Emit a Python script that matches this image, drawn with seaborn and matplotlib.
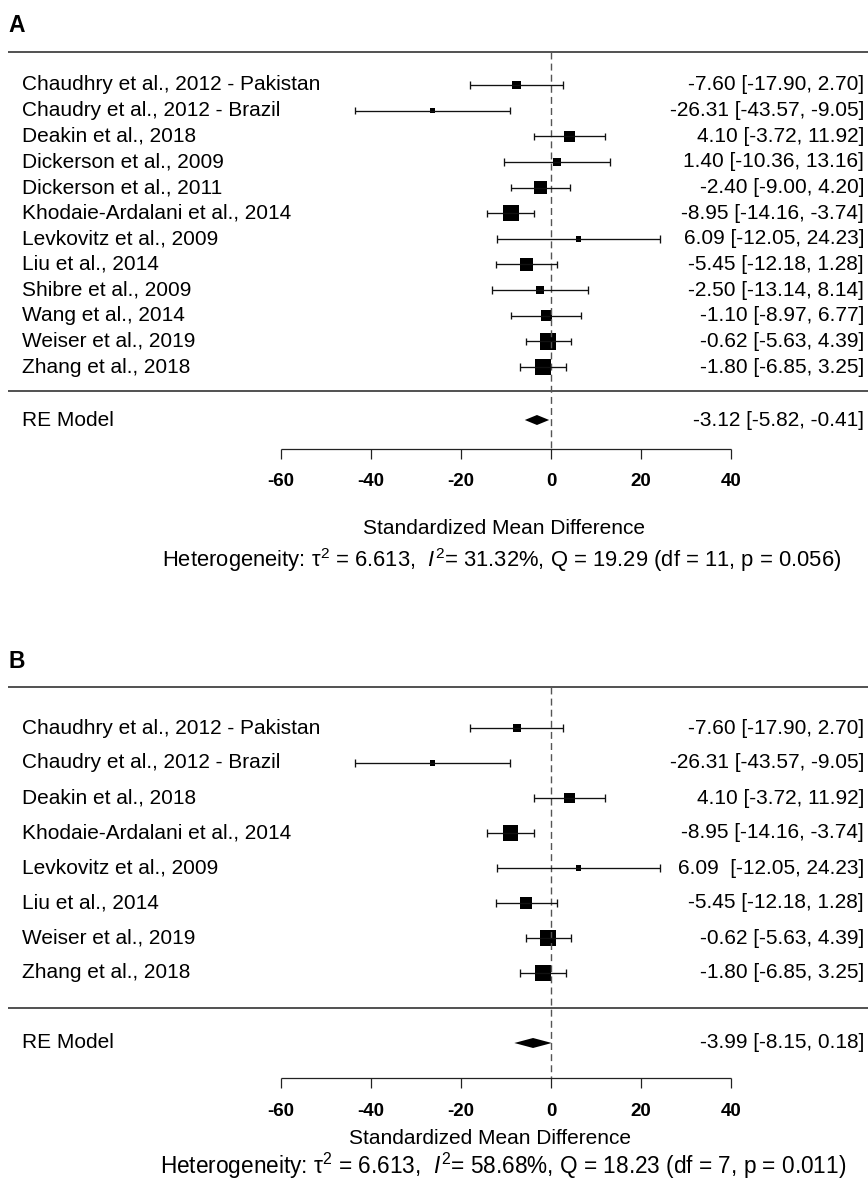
import numpy as np
import pandas as pd
import matplotlib
matplotlib.use("Agg")
import matplotlib.pyplot as plt
import seaborn as sns

# ---- data: panel A (all studies) ----
studies_a = [
    "Chaudhry et al., 2012 - Pakistan",
    "Chaudry et al., 2012 - Brazil",
    "Deakin et al., 2018",
    "Dickerson et al., 2009",
    "Dickerson et al., 2011",
    "Khodaie-Ardalani et al., 2014",
    "Levkovitz et al., 2009",
    "Liu et al., 2014",
    "Shibre et al., 2009",
    "Wang et al., 2014",
    "Weiser et al., 2019",
    "Zhang et al., 2018",
]
est_a = [-7.60, -26.31, 4.10, 1.40, -2.40, -8.95, 6.09, -5.45, -2.50, -1.10, -0.62, -1.80]
lb_a = [-17.90, -43.57, -3.72, -10.36, -9.00, -14.16, -12.05, -12.18, -13.14, -8.97, -5.63, -6.85]
ub_a = [2.70, -9.05, 11.92, 13.16, 4.20, -3.74, 24.23, 1.28, 8.14, 6.77, 4.39, 3.25]
re_a = (-3.12, -5.82, -0.41)
het_a = r"Heterogeneity: τ$^2$ = 6.613,  $I^2$= 31.32%, Q = 19.29 (df = 11, p = 0.056)"

# ---- data: panel B (subset) ----
studies_b = [
    "Chaudhry et al., 2012 - Pakistan",
    "Chaudry et al., 2012 - Brazil",
    "Deakin et al., 2018",
    "Khodaie-Ardalani et al., 2014",
    "Levkovitz et al., 2009",
    "Liu et al., 2014",
    "Weiser et al., 2019",
    "Zhang et al., 2018",
]
est_b = [-7.60, -26.31, 4.10, -8.95, 6.09, -5.45, -0.62, -1.80]
lb_b = [-17.90, -43.57, -3.72, -14.16, -12.05, -12.18, -5.63, -6.85]
ub_b = [2.70, -9.05, 11.92, -3.74, 24.23, 1.28, 4.39, 3.25]
re_b = (-3.99, -8.15, 0.18)
het_b = r"Heterogeneity: τ$^2$ = 6.613,  $I^2$= 58.68%, Q = 18.23 (df = 7, p = 0.011)"

xticks = [-60, -40, -20, 0, 20, 40]
xlab = "Standardized Mean Difference"

sns.set_theme(style="white")
plt.rcParams["font.family"] = ["Liberation Sans", "DejaVu Sans"]
plt.rcParams["text.color"] = "black"
plt.rcParams["mathtext.fontset"] = "custom"
plt.rcParams["mathtext.rm"] = "Liberation Sans"
plt.rcParams["mathtext.it"] = "Liberation Sans:italic"
plt.rcParams["mathtext.bf"] = "Liberation Sans:bold"

W, H, DPI = 868, 1181, 100
PX = 4.5          # pixels per SMD unit
X0 = 551          # pixel column of zero
FS = 15


def px2x(p):
    return (p - X0) / PX


fig = plt.figure(figsize=(W / DPI, H / DPI), dpi=DPI)
ax = fig.add_axes([0, 0, 1, 1])
ax.set_xlim(px2x(0), px2x(W))
ax.set_ylim(H, 0)
ax.axis("off")


def panel(letter, studies, est, lb, ub, re, het, lay, pad_rows=()):
    est = np.array(est)
    lb = np.array(lb)
    ub = np.array(ub)
    k = len(studies)
    ys = lay["row0"] + np.arange(k) * lay["step"]

    # box sizes from inverse standard errors (metafor style, 0.5..1.5)
    se = (ub - lb) / (2 * 1.96)
    wi = 1 / se
    ps = (wi - wi.min()) / (wi.max() - wi.min()) + 0.5
    side_pt = ps * lay["box"] * 72 / DPI
    df = pd.DataFrame({"est": est, "y": ys, "area": side_pt ** 2})

    ax.text(px2x(8), lay["title"], letter, fontsize=16.5, fontweight="bold",
            ha="left", va="center")
    ax.hlines([lay["top"], lay["bot"]], px2x(8), px2x(W), color="#222", lw=1.1)
    ax.vlines(0, lay["top"], lay["axis"], color="#555", lw=1.0,
              linestyles=(0, (5, 3)))

    ax.hlines(ys, lb, ub, color="#111", lw=0.95)
    ax.vlines(np.r_[lb, ub], np.r_[ys, ys] - 3.7, np.r_[ys, ys] + 3.7,
              color="#111", lw=0.95)
    sns.scatterplot(data=df, x="est", y="y", size="area",
                    sizes=(df["area"].min(), df["area"].max()),
                    marker="s", color="black", linewidth=0, legend=False, ax=ax)

    for i, (name, e, l, u) in enumerate(zip(studies, est, lb, ub)):
        gap = "  " if i in pad_rows else " "
        ax.text(px2x(22), ys[i], name, fontsize=FS, ha="left", va="center")
        ax.text(px2x(864), ys[i], f"{e:.2f}{gap}[{l:.2f}, {u:.2f}]",
                fontsize=FS, ha="right", va="center")

    r_est, r_lb, r_ub = re
    yr = lay["re"]
    ax.fill([r_lb, r_est, r_ub, r_est], [yr, yr - 5, yr, yr + 5],
            color="black", lw=0)
    ax.text(px2x(22), yr, "RE Model", fontsize=FS, ha="left", va="center")
    ax.text(px2x(864), yr, f"{r_est:.2f} [{r_lb:.2f}, {r_ub:.2f}]",
            fontsize=FS, ha="right", va="center")

    ya = lay["axis"]
    ax.hlines(ya, xticks[0], xticks[-1], color="#222", lw=0.9)
    ax.vlines(xticks, ya, ya + 10, color="#222", lw=0.9)
    for t in xticks:
        ax.text(t, lay["ticklab"], str(t), fontsize=13.5, fontweight="bold",
                ha="center", va="center")
    ax.text(px2x(lay["xlab_c"]), lay["xlab"], xlab, fontsize=FS,
            ha="center", va="center")
    ax.text(px2x(lay["het_c"]), lay["het"], het, fontsize=lay["het_fs"],
            ha="center", va="center")


lay_a = dict(title=26, top=52, row0=85, step=25.64, bot=391, re=420, axis=449,
             ticklab=482, xlab=529, xlab_c=504, het=560, het_c=502, het_fs=15.8,
             box=11)
lay_b = dict(title=662, top=687, row0=728, step=35.0, bot=1008, re=1043,
             axis=1078, ticklab=1111, xlab=1139, xlab_c=490, het=1166,
             het_c=503, het_fs=16.3, box=10.5)

panel("A", studies_a, est_a, lb_a, ub_a, re_a, het_a, lay_a)
panel("B", studies_b, est_b, lb_b, ub_b, re_b, het_b, lay_b, pad_rows=(4,))

fig.savefig("out.png", dpi=DPI)
